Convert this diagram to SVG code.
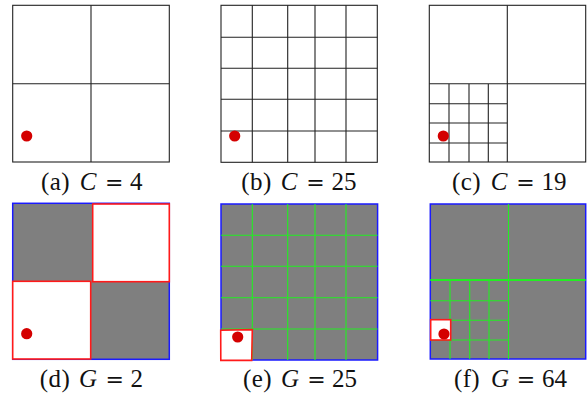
<svg xmlns="http://www.w3.org/2000/svg" width="587" height="394" viewBox="0 0 587 394">
<style>
.bg{fill:#ffffff}
.frame{fill:#ffffff;stroke:#222;stroke-width:1.1}
.ln{stroke:#222;stroke-width:1.1;fill:none}
.gray{fill:#7f7f7f;stroke:#1a1aff;stroke-width:1.5}
.gr{stroke:#22ee22;stroke-width:1.1;fill:none}
.grt{stroke:#22ee22;stroke-width:2;fill:none}
.red{fill:#ffffff;stroke:#ff1a1a;stroke-width:1.6}
.dot{fill:#d40000}
.cap{font-family:"Liberation Serif","DejaVu Serif",serif;font-size:25px;fill:#111}
.lab{text-anchor:middle;letter-spacing:0.4px}
.it{font-style:italic;text-anchor:middle}
.eq{font-family:"DejaVu Serif","Liberation Serif",serif;font-size:22px;font-weight:300;text-anchor:middle}
.num{text-anchor:start}
</style>
<rect class="bg" x="0" y="0" width="587" height="394"/>

<g id="panel-a">
<rect class="frame" x="12.7" y="5.3" width="156.6" height="156.7"/>
<path class="ln" d="M91 5.3V162M12.7 83.7H169.3"/>
<circle class="dot" cx="26.7" cy="136" r="5.6"/>
<g class="cap"><text class="lab" x="55.5" y="190">(a)</text><text class="it" x="88" y="190">C</text><text class="eq" x="114.3" y="190">=</text><text class="num" x="130" y="190">4</text></g>
</g>

<g id="panel-b">
<rect class="frame" x="221" y="5.3" width="156.3" height="157"/>
<path class="ln" d="M252.3 5.3V162.3M287.7 5.3V162.3M315 5.3V162.3M346 5.3V162.3M221 37.3H377.3M221 68.3H377.3M221 99.3H377.3M221 131H377.3"/>
<circle class="dot" cx="234.7" cy="136" r="5.6"/>
<g class="cap"><text class="lab" x="256.5" y="190">(b)</text><text class="it" x="289" y="190">C</text><text class="eq" x="315.5" y="190">=</text><text class="num" x="331.5" y="190">25</text></g>
</g>

<g id="panel-c">
<rect class="frame" x="429.3" y="5.3" width="156.4" height="156.7"/>
<path class="ln" d="M507.3 5.3V162M429.3 83.7H585.7M449 83.7V162M469 83.7V162M488.3 83.7V162M429.3 103.7H507.3M429.3 123H507.3M429.3 143H507.3"/>
<circle class="dot" cx="443.3" cy="136" r="5.6"/>
<g class="cap"><text class="lab" x="466.5" y="190">(c)</text><text class="it" x="499" y="190">C</text><text class="eq" x="525.5" y="190">=</text><text class="num" x="541.5" y="190">19</text></g>
</g>

<g id="panel-d">
<rect class="gray" x="12.7" y="203.3" width="156.6" height="156"/>
<rect class="red" x="92.7" y="204" width="76.6" height="77.7"/>
<rect class="red" x="12.7" y="281.3" width="78" height="77.7"/>
<circle class="dot" cx="26.7" cy="333.7" r="5.6"/>
<g class="cap"><text class="lab" x="55" y="386.5">(d)</text><text class="it" x="88" y="386.5">G</text><text class="eq" x="114.6" y="386.5">=</text><text class="num" x="130.5" y="386.5">2</text></g>
</g>

<g id="panel-e">
<rect class="gray" x="221" y="204" width="156.6" height="156"/>
<path class="gr" d="M252.3 204V360M287.7 204V360M315 204V360M346 204V360M221 235.3H377.6M221 266.3H377.6M221 297.7H377.6M221 329H377.6"/>
<path class="red" d="M220.7 330.2L252.3 329.6L251.7 360.4L220.8 360.4Z"/>
<circle class="dot" cx="237.7" cy="337" r="5.6"/>
<g class="cap"><text class="lab" x="257.5" y="386.5">(e)</text><text class="it" x="290" y="386.5">G</text><text class="eq" x="316.5" y="386.5">=</text><text class="num" x="332" y="386.5">25</text></g>
</g>

<g id="panel-f">
<rect class="gray" x="430.3" y="204" width="155.4" height="155"/>
<path class="gr" d="M508.5 204V359M450 280V359M469.7 280V359M489 280V359M430.3 300.7H508.5M430.3 320.3H508.5M430.3 340H508.5"/>
<path class="grt" d="M430.3 280H585.7"/>
<rect class="red" x="430.7" y="319.7" width="20" height="20.3"/>
<circle class="dot" cx="444" cy="334" r="5.6"/>
<g class="cap"><text class="lab" x="467" y="386.5">(f)</text><text class="it" x="500" y="386.5">G</text><text class="eq" x="526" y="386.5">=</text><text class="num" x="542" y="386.5">64</text></g>
</g>
</svg>
